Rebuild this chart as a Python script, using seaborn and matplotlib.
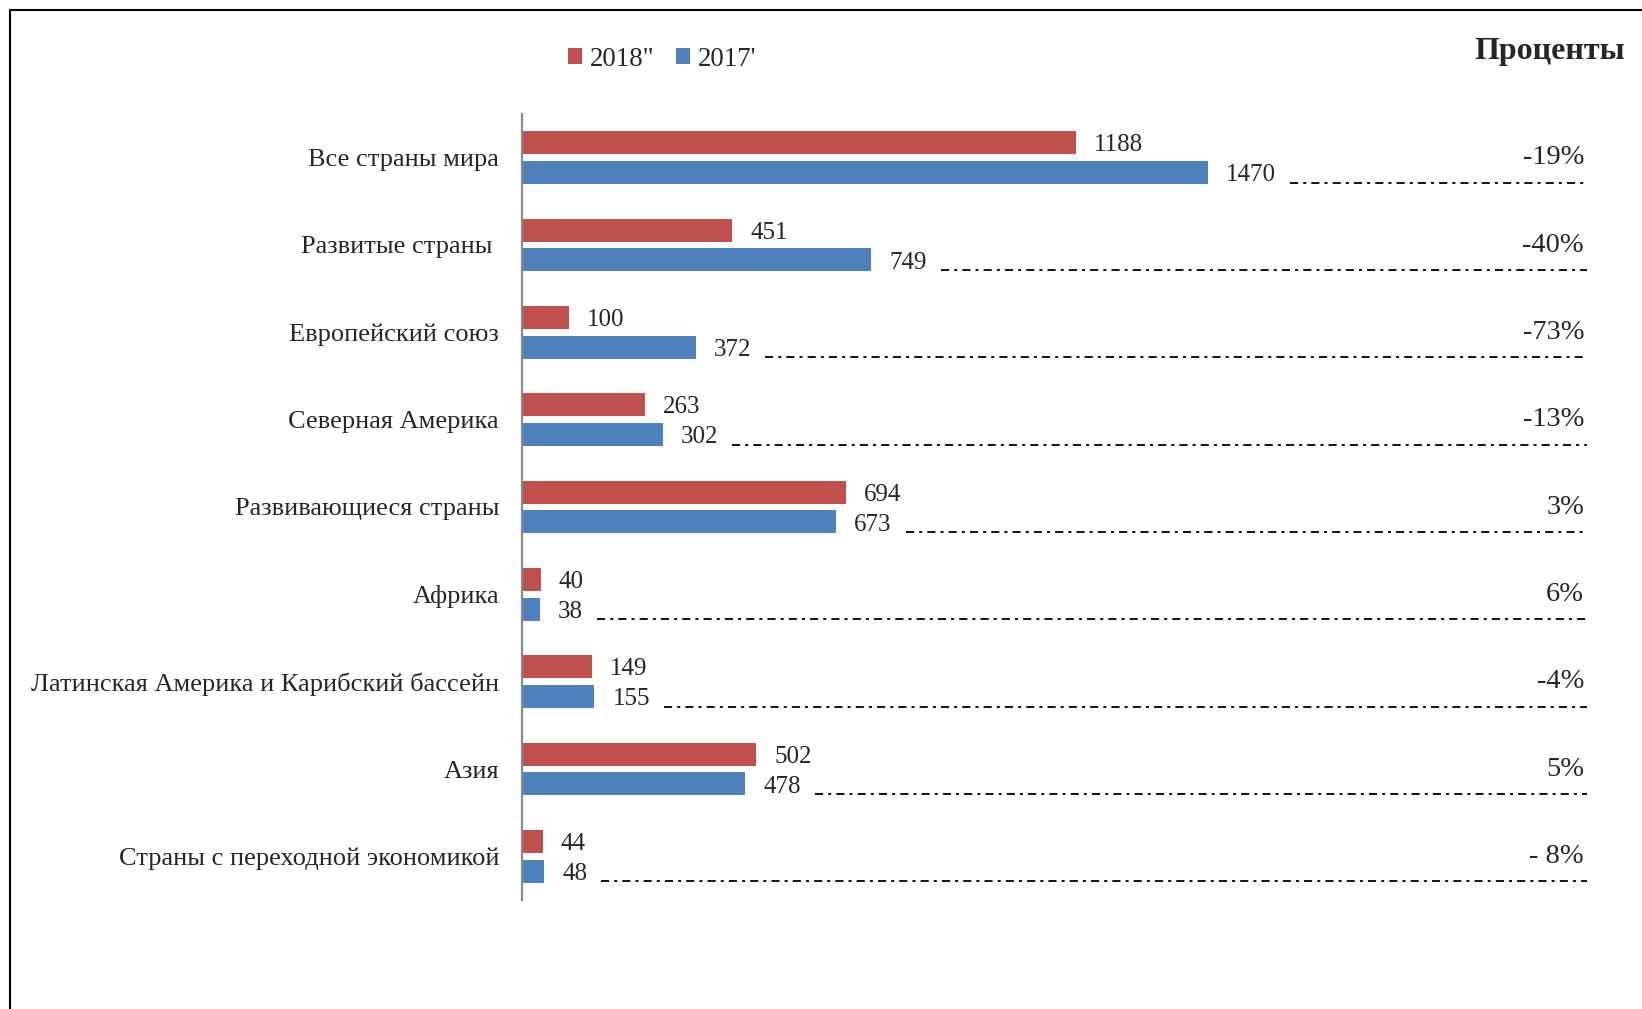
import matplotlib
matplotlib.use("Agg")
import matplotlib.pyplot as plt
import seaborn as sns
import pandas as pd
from matplotlib.lines import Line2D
from matplotlib.patches import Patch

# ---------------- data ----------------
categories = [
    "Все страны мира",
    "Развитые страны ",
    "Европейский союз",
    "Северная Америка",
    "Развивающиеся страны",
    "Африка",
    "Латинская Америка и Карибский бассейн",
    "Азия",
    "Страны с переходной экономикой",
]
values_2018 = [1188, 451, 100, 263, 694, 40, 149, 502, 44]
values_2017 = [1470, 749, 372, 302, 673, 38, 155, 478, 48]
pct_labels = ["-19%", "-40%", "-73%", "-13%", "3%", "6%", "-4%", "5%", "- 8%"]
series = ['2018"', "2017'"]
title_right = "Проценты"

RED = "#C0504D"
BLUE = "#4F81BD"

# ---------------- figure ----------------
W, H = 1642, 1009
sns.set_style("white")
plt.rcParams["font.family"] = ["Liberation Serif", "DejaVu Serif"]

fig = plt.figure(figsize=(W / 100, H / 100), dpi=100)
ax_left, ax_right = 522, 1600
ax_top, ax_bottom = 114, 900
ax = fig.add_axes([ax_left / W, 1 - ax_bottom / H, (ax_right - ax_left) / W,
                   (ax_bottom - ax_top) / H])

df = pd.DataFrame({
    "category": categories * 2,
    "value": values_2018 + values_2017,
    "year": [series[0]] * len(categories) + [series[1]] * len(categories),
})

sns.barplot(data=df, y="category", x="value", hue="year", hue_order=series,
            order=categories, palette=[RED, BLUE], orient="h", width=0.686,
            gap=0.233, saturation=1, legend=False, ax=ax, edgecolor="none")

px_per_unit = 0.4665
ax.set_xlim(0, (ax_right - ax_left) / px_per_unit)
ax.set_ylim(len(categories) - 0.5, -0.5)

FS_CAT = 19
FS_VAL = 18
FS_PCT = 20.5
FS_LEG = 19.4
for sp in ["top", "right", "bottom"]:
    ax.spines[sp].set_visible(False)
ax.spines["left"].set_color("#8a8a8a")
ax.spines["left"].set_linewidth(1.6)
ax.set_xticks([])
ax.tick_params(axis="y", length=0, pad=16.5, labelsize=FS_CAT)
ax.set_xlabel("")
ax.set_ylabel("")

# value labels
c18, c17 = ax.containers[0], ax.containers[1]
t18 = ax.bar_label(c18, labels=[str(v) for v in values_2018], padding=13, fontsize=FS_VAL)
t17 = ax.bar_label(c17, labels=[str(v) for v in values_2017], padding=13, fontsize=FS_VAL)
for t in list(t18) + list(t17):
    t.xyann = (13, -2)

# percent labels
x_pct = (1584 - ax_left) / px_per_unit
x_dash_end = (1587 - ax_left) / px_per_unit
for i, lab in enumerate(pct_labels):
    ax.text(x_pct, i, lab, ha="right", va="center", fontsize=FS_PCT)

# dash-dot leader lines after the 2017 labels
fig.canvas.draw()
inv = ax.transData.inverted()
band_px = (ax_bottom - ax_top) / len(categories)
for bar, txt in zip(c17.patches, t17):
    bb = txt.get_window_extent()
    x0 = inv.transform((bb.x1 + 14, bb.y0))[0]
    yc = bar.get_y() + bar.get_height() / 2 + 10 / band_px
    ax.plot([x0, x_dash_end], [yc, yc], color="black", lw=1.3,
            linestyle=(0, (4.5, 2.8, 1.7, 2.8)), solid_capstyle="butt",
            dash_capstyle="butt")

# legend
handles = [Patch(facecolor=RED, edgecolor="none"), Patch(facecolor=BLUE, edgecolor="none")]
fig.legend(handles, series, loc="center", bbox_to_anchor=(662 / W, 1 - 59 / H),
           ncol=2, frameon=False, fontsize=FS_LEG, handlelength=0.52, handleheight=0.52,
           handletextpad=0.3, columnspacing=0.8, borderpad=0)

# title on right
fig.text(1625 / W, 1 - 51 / H, title_right, ha="right", va="center",
         fontsize=23, fontweight="bold")

# outer frame (top and left edges visible)
fig.add_artist(Line2D([10 / W, 10 / W], [0, 1 - 10 / H], transform=fig.transFigure,
                      color="black", lw=1.5))
fig.add_artist(Line2D([10 / W, 1], [1 - 10 / H, 1 - 10 / H], transform=fig.transFigure,
                      color="black", lw=1.5))

fig.savefig("out.png", dpi=100)
